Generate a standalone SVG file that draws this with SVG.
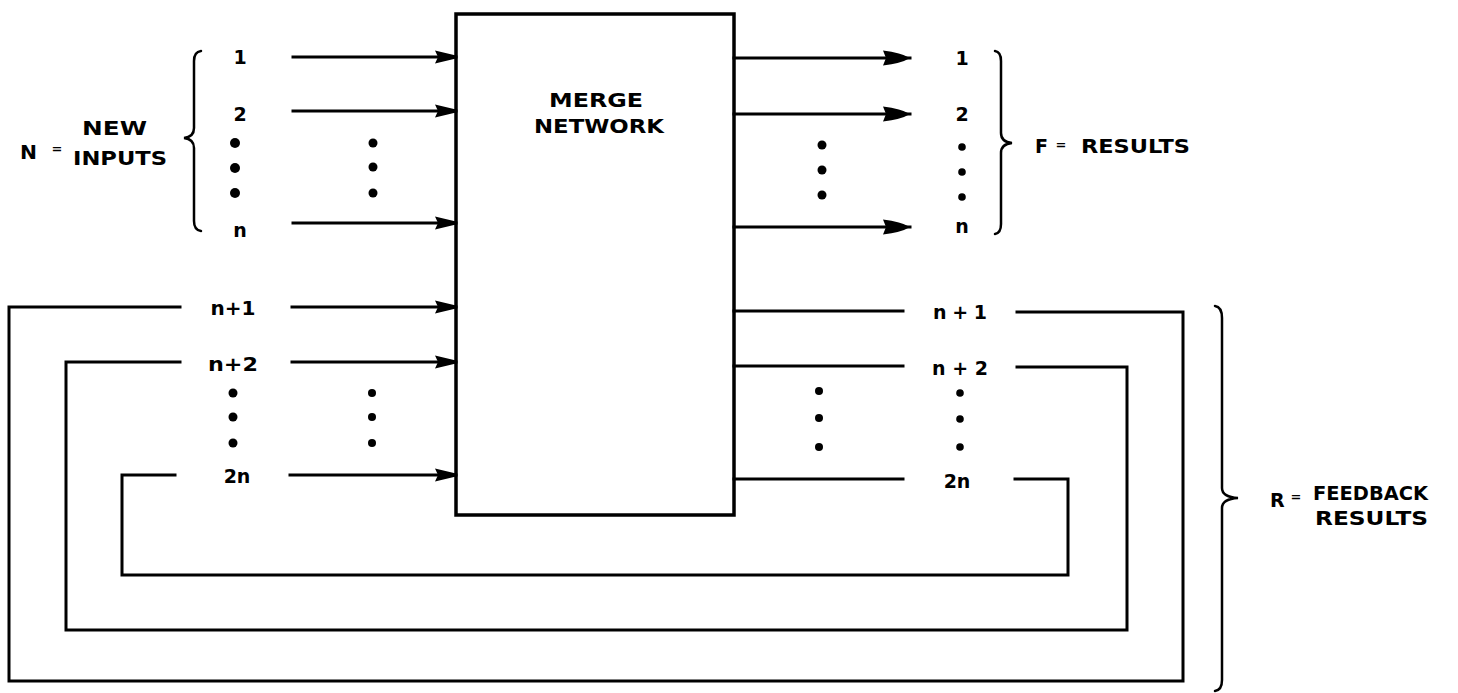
<svg xmlns="http://www.w3.org/2000/svg" width="1458" height="693" viewBox="0 0 1458 693">
<style>
.ln{fill:none;stroke:#000;stroke-width:3;stroke-linecap:square;stroke-linejoin:miter}
.br{fill:none;stroke:#000;stroke-width:2.5;stroke-linecap:round}
.t{font-family:"DejaVu Sans","Liberation Sans",Arial,sans-serif;font-weight:bold;font-size:19px;fill:#000}
.c{text-anchor:middle}
.eq{font-family:"DejaVu Sans","Liberation Sans",Arial,sans-serif;font-weight:bold;font-size:13px;fill:#000;text-anchor:middle}
.d{fill:#000}
</style>
<defs>
<marker id="ai" markerUnits="userSpaceOnUse" markerWidth="24" markerHeight="16" viewBox="0 -8 24 16" refX="21" refY="0" orient="auto">
<path d="M0,-6.5 L21,-1.5 L21,1.5 L0,6.5 L3,0 Z" fill="#000"/>
</marker>
<marker id="ao" markerUnits="userSpaceOnUse" markerWidth="30" markerHeight="18" viewBox="0 -9 30 18" refX="27" refY="0" orient="auto">
<path d="M0,-7.5 Q18,-5.5 27,0 Q18,5.5 0,7.5 L3,0 Z" fill="#000"/>
</marker>
</defs>

<g id="merge-network">
<rect x="456" y="14" width="278" height="501" fill="#fff" stroke="#000" stroke-width="3.5"/>
<text class="t c" x="596" y="107" font-size="20" textLength="94" lengthAdjust="spacingAndGlyphs">MERGE</text>
<text class="t c" x="599" y="133" font-size="20" textLength="130" lengthAdjust="spacingAndGlyphs">NETWORK</text>
</g>

<g id="connectors">
<path class="ln" d="M293,57 H456" marker-end="url(#ai)"/>
<path class="ln" d="M293,111 H456" marker-end="url(#ai)"/>
<path class="ln" d="M293,223 H456" marker-end="url(#ai)"/>
<path class="ln" d="M734,58 H910" marker-end="url(#ao)"/>
<path class="ln" d="M734,114 H910" marker-end="url(#ao)"/>
<path class="ln" d="M734,227 H910" marker-end="url(#ao)"/>
<path class="ln" d="M292,307 H456" marker-end="url(#ai)"/>
<path class="ln" d="M292,362 H456" marker-end="url(#ai)"/>
<path class="ln" d="M290,475 H456" marker-end="url(#ai)"/>
<path class="ln" d="M734,311 H903"/>
<path class="ln" d="M734,366 H903"/>
<path class="ln" d="M734,479 H903"/>
<path class="ln" d="M1017,312 H1183 V681 H9 V307 H180"/>
<path class="ln" d="M1017,367 H1127 V630 H66 V362 H180"/>
<path class="ln" d="M1015,479 H1068 V575 H122 V475 H175"/>
</g>

<g id="new-inputs">
<text class="t c" x="240" y="64">1</text>
<text class="t c" x="240" y="121">2</text>
<circle class="d" cx="235" cy="143" r="5"/>
<circle class="d" cx="235" cy="168" r="5"/>
<circle class="d" cx="235" cy="193" r="5"/>
<text class="t c" x="240" y="237">n</text>
<circle class="d" cx="373" cy="143" r="4.5"/>
<circle class="d" cx="373" cy="167" r="4.5"/>
<circle class="d" cx="373" cy="193" r="4.5"/>
<path class="br" d="M201,51 Q194,52 194,61 L194,128 Q194,137 184,138 Q194,139 194,148 L194,221 Q194,230 201,231"/>
<text class="t" x="20" y="159" font-size="18" textLength="17" lengthAdjust="spacingAndGlyphs">N</text>
<text class="eq" x="57" y="153">=</text>
<text class="t" x="82" y="135" font-size="18" textLength="65" lengthAdjust="spacingAndGlyphs">NEW</text>
<text class="t" x="73" y="165" font-size="18" textLength="94" lengthAdjust="spacingAndGlyphs">INPUTS</text>
</g>

<g id="results">
<text class="t c" x="962" y="65">1</text>
<text class="t c" x="962" y="121">2</text>
<circle class="d" cx="962" cy="147" r="3.8"/>
<circle class="d" cx="962" cy="172" r="3.8"/>
<circle class="d" cx="962" cy="197" r="3.8"/>
<text class="t c" x="962" y="233">n</text>
<circle class="d" cx="822" cy="145" r="4.5"/>
<circle class="d" cx="822" cy="170" r="4.5"/>
<circle class="d" cx="822" cy="195" r="4.5"/>
<path class="br" d="M995,51 Q1001,52 1001,61 L1001,133 Q1001,142 1012,143 Q1001,144 1001,153 L1001,224 Q1001,233 995,234"/>
<text class="t" x="1035" y="153" font-size="18">F</text>
<text class="eq" x="1061" y="149">=</text>
<text class="t" x="1081" y="153" font-size="18" textLength="109" lengthAdjust="spacingAndGlyphs">RESULTS</text>
</g>

<g id="feedback-inputs">
<text class="t c" x="233" y="315" textLength="45" lengthAdjust="spacingAndGlyphs">n+1</text>
<text class="t c" x="233" y="371" textLength="50" lengthAdjust="spacingAndGlyphs">n+2</text>
<circle class="d" cx="233" cy="393" r="4.5"/>
<circle class="d" cx="233" cy="417" r="4.5"/>
<circle class="d" cx="233" cy="443" r="4.5"/>
<text class="t c" x="237" y="483">2n</text>
<circle class="d" cx="372" cy="393" r="4"/>
<circle class="d" cx="372" cy="417" r="4"/>
<circle class="d" cx="372" cy="443" r="4"/>
</g>

<g id="feedback-results">
<text class="t c" x="960" y="319" textLength="54" lengthAdjust="spacing">n + 1</text>
<text class="t c" x="960" y="375" textLength="56" lengthAdjust="spacing">n + 2</text>
<circle class="d" cx="960" cy="393" r="3.8"/>
<circle class="d" cx="960" cy="419" r="3.8"/>
<circle class="d" cx="960" cy="447" r="3.8"/>
<text class="t c" x="957" y="488">2n</text>
<circle class="d" cx="819" cy="391" r="4"/>
<circle class="d" cx="819" cy="418" r="4"/>
<circle class="d" cx="819" cy="447" r="4"/>
<path class="br" d="M1215,306 Q1222,307 1222,318 L1222,488 Q1222,497 1238,498 Q1222,499 1222,508 L1222,680 Q1222,690 1215,691"/>
<text class="t" x="1270" y="507" font-size="18">R</text>
<text class="eq" x="1296" y="501">=</text>
<text class="t" x="1313" y="500" font-size="18" textLength="115" lengthAdjust="spacingAndGlyphs">FEEDBACK</text>
<text class="t" x="1315" y="525" font-size="18" textLength="113" lengthAdjust="spacingAndGlyphs">RESULTS</text>
</g>
</svg>
